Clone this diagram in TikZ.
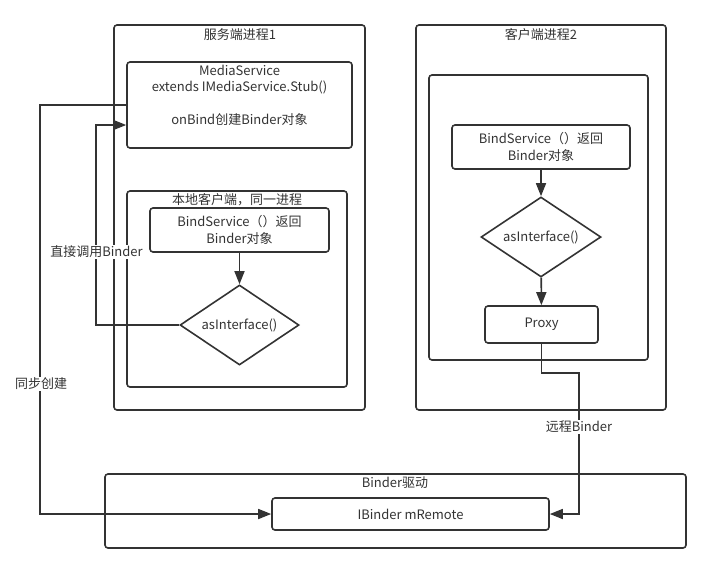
\documentclass[tikz,border=0pt]{standalone}
\usepackage{fontspec}
\setmainfont{Noto Sans CJK SC}
\usetikzlibrary{shapes.geometric,arrows.meta}
\definecolor{ink}{HTML}{333333}

\tikzset{
	frame/.style={draw=ink, line width=1.6pt, rounded corners=3pt, inner sep=0pt},
	box/.style={frame, align=center, text=ink},
	decide/.style={diamond, draw=ink, line width=1.6pt, inner sep=0pt, label={[text=ink]center:#1}},
	link/.style={draw=ink, line width=1.6pt, -{Triangle[length=13pt,width=10pt]}},
	title/.style={text=ink, inner sep=0pt},
	tag/.style={fill=white, text=ink, inner sep=1pt}
}

\begin{document}
\begin{tikzpicture}[x=1pt, y=-1pt, font=\fontsize{13}{16.5}\selectfont]
		\useasboundingbox (0,0) rectangle (711,573);

		% server process
		\node[frame, minimum width=251pt, minimum height=385pt] (server) at (239.5,217.5) {};
		\node[title] (servername) at (240,35) {服务端进程1};

		\node[frame, minimum width=225pt, minimum height=86pt] (media) at (239.5,105) {};
		\node[title, align=center] (mediatext) at (239.5,95) {MediaService\\extends IMediaService.Stub()\\[16pt]onBind创建Binder对象};

		\node[frame, minimum width=220pt, minimum height=196pt] (local) at (237,289) {};
		\node[title] (localname) at (237,200) {本地客户端，同一进程};
		\node[box, minimum width=179pt, minimum height=44pt] (bindA) at (239.5,230) {BindService（）返回\\Binder对象};
		\node[decide={asInterface()}, minimum width=119pt, minimum height=80pt] (askA) at (239.5,325) {};

		% client process
		\node[frame, minimum width=250pt, minimum height=385pt] (client) at (541,217.5) {};
		\node[title] (clientname) at (541,35) {客户端进程2};
		\node[frame, minimum width=219pt, minimum height=285pt] (clientin) at (538.5,217.5) {};
		\node[box, minimum width=178pt, minimum height=44pt] (bindB) at (541,147) {BindService（）返回\\Binder对象};
		\node[decide={asInterface()}, minimum width=120pt, minimum height=80pt] (askB) at (541,237) {};
		\node[box, minimum width=113pt, minimum height=37pt] (proxy) at (541.5,324.5) {Proxy};

		% binder driver
		\node[frame, minimum width=581pt, minimum height=74pt] (driver) at (395.5,511) {};
		\node[title] (drivername) at (395,483) {Binder驱动};
		\node[box, minimum width=277pt, minimum height=32pt] (remote) at (410.5,514) {IBinder mRemote};

		% connectors
		\draw[link] (bindA) -- (askA);
		\draw[link] (bindB) -- (askB);
		\draw[link] (askB) -- (proxy);

		\draw[link] (askA.west) -- ++(-83,0) |- ([yshift=-20pt]media.west);
		\node[tag] (direct) at (96.5,252) {直接调用Binder};

		\draw[link] (media.west) -- ++(-86,0) |- (remote.west);
		\node[tag] (sync) at (41,384) {同步创建};

		\draw[link] (proxy.south) |- (579,373) |- (remote.east);
		\node[tag] (far) at (579,427) {远程Binder};
	\end{tikzpicture}
\end{document}
